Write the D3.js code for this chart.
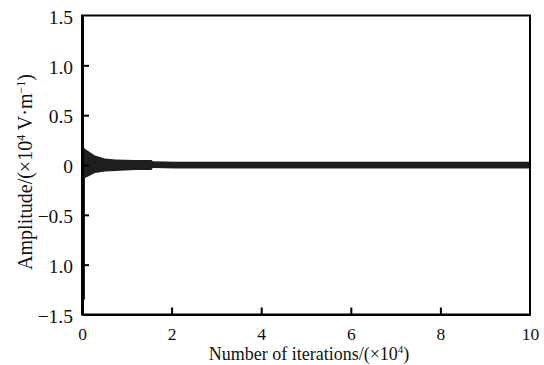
<!DOCTYPE html>
<html>
<head>
<meta charset="utf-8">
<script src="https://cdn.jsdelivr.net/npm/d3@7"></script>
<style>
  body { margin: 0; background: #fff; }
  svg text { font-family: "Liberation Serif", "DejaVu Serif", serif; fill: #111; }
</style>
</head>
<body>
<figure id="chart" style="margin:0"></figure>
<script>
// ticks
const xTicks = [0, 2, 4, 6, 8, 10];
const yTicks = [1.5, 1.0, 0.5, 0, -0.5, -1.0, -1.5];
const yTickLabels = ["1.5", "1.0", "0.5", "0", "\u22120.5", "1.0", "\u22121.5"];

// envelope of the oscillation
const envX     = [0,     0.07,  0.29,  0.51,  0.74,  1.18,  1.55,  1.58,  2.1,   10];
const envUpper = [0.17,  0.16,  0.095, 0.065, 0.055, 0.05,  0.05,  0.038, 0.033, 0.032];
const envLower = [-0.14, -0.13, -0.08, -0.065, -0.06, -0.05, -0.05, -0.03, -0.035, -0.035];

// initial spike at the first iterations
const spikeX = [0, 0];
const spikeY = [0.17, -1.35];

const W = 544, H = 365;
const margin = { left: 82, right: 14, top: 15.5, bottom: 50.5 };
const width = W - margin.left - margin.right;
const height = H - margin.top - margin.bottom;

const svg = d3.select("figure#chart")
  .append("svg")
  .attr("width", W)
  .attr("height", H);

const g = svg.append("g")
  .attr("transform", "translate(" + margin.left + "," + margin.top + ")");

const x = d3.scaleLinear().domain([0, 10]).range([0, width]);
const y = d3.scaleLinear().domain([-1.5, 1.5]).range([height, 0]);

// envelope band
const envData = envX.map((d, i) => ({ x: d, hi: envUpper[i], lo: envLower[i] }));
const area = d3.area()
  .x(d => x(d.x))
  .y0(d => y(d.lo))
  .y1(d => y(d.hi));
g.append("path")
  .datum(envData)
  .attr("d", area)
  .attr("fill", "#1e1e1e");

// spike
g.append("path")
  .datum(spikeX.map((d, i) => [d, spikeY[i]]))
  .attr("d", d3.line().x(d => x(d[0]) + 1.5).y(d => y(d[1])))
  .attr("stroke", "#1e1e1e")
  .attr("stroke-width", 3)
  .attr("fill", "none");

// frame
g.append("rect")
  .attr("x", 0).attr("y", 0)
  .attr("width", width).attr("height", height)
  .attr("fill", "none")
  .attr("stroke", "#000")
  .attr("stroke-width", 2);

// x axis (ticks inside)
const xAxis = g.append("g")
  .attr("transform", "translate(0," + height + ")")
  .call(d3.axisBottom(x).tickValues(xTicks).tickSizeInner(-7).tickSizeOuter(0).tickPadding(13.5));
xAxis.select(".domain").attr("stroke", "#000").attr("stroke-width", 2);
xAxis.selectAll(".tick line").attr("stroke", "#000").attr("stroke-width", 2);
xAxis.selectAll(".tick text")
  .style("font-family", "'Liberation Serif', serif")
  .style("font-size", "17.5px")
  .attr("fill", "#111");
xAxis.selectAll(".tick").filter(d => d === 0 || d === 10).select("line").remove();

// y axis (ticks inside)
const yAxis = g.append("g")
  .call(d3.axisLeft(y).tickValues(yTicks)
    .tickFormat((d, i) => yTickLabels[i])
    .tickSizeInner(-7).tickSizeOuter(0).tickPadding(9));
yAxis.select(".domain").attr("stroke", "#000").attr("stroke-width", 3);
yAxis.selectAll(".tick line").attr("stroke", "#000").attr("stroke-width", 2);
yAxis.selectAll(".tick text")
  .style("font-family", "'Liberation Serif', serif")
  .style("font-size", "19.5px")
  .attr("fill", "#111")
  .attr("dy", "0.4em");
yAxis.selectAll(".tick").filter(d => d === 1.5 || d === -1.5).select("line").remove();

// axis titles
const xTitle = svg.append("text")
  .attr("x", margin.left + width / 2 + 3)
  .attr("y", 360)
  .attr("text-anchor", "middle")
  .style("font-size", "18px");
xTitle.append("tspan").text("Number of iterations/(\u00d710");
xTitle.append("tspan").style("font-size", "11px").attr("dy", -7).text("4");
xTitle.append("tspan").attr("dy", 7).text(")");

const yTitle = svg.append("text")
  .attr("transform", "translate(32,172) rotate(-90)")
  .attr("text-anchor", "middle")
  .style("font-size", "20px");
yTitle.append("tspan").text("Amplitude/(\u00d710");
yTitle.append("tspan").style("font-size", "12px").attr("dy", -7).text("4");
yTitle.append("tspan").attr("dy", 7).text(" V\u00b7m");
yTitle.append("tspan").style("font-size", "12px").attr("dy", -7).text("\u22121");
yTitle.append("tspan").attr("dy", 7).text(")");
</script>
</body>
</html>
